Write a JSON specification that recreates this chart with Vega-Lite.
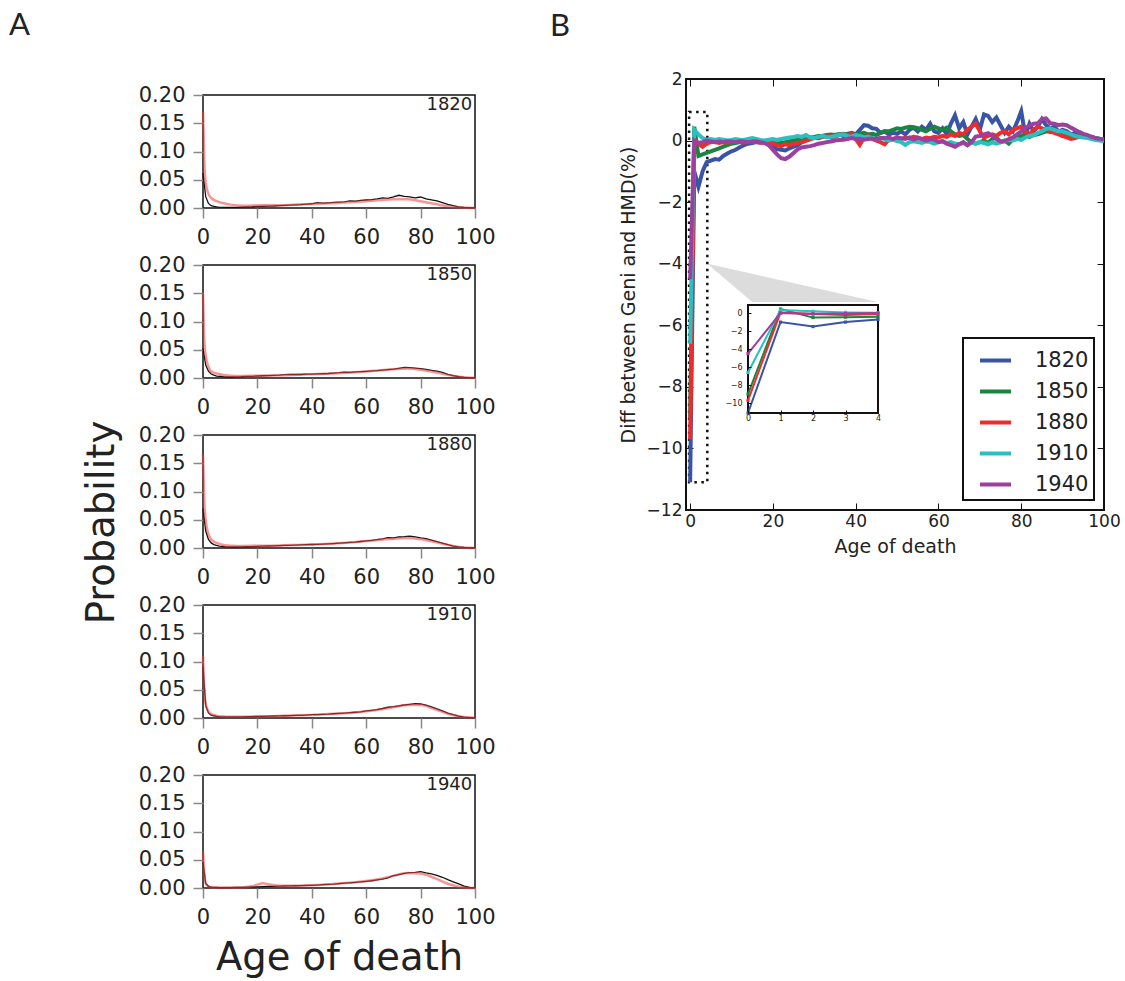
{
"$schema":"https://vega.github.io/schema/vega-lite/v6.json",
"background":"white",
"padding":{"left":9,"top":9,"right":5,"bottom":5},
"config":{
 "font":"DejaVu Sans",
 "view":{"stroke":null},
 "axis":{"grid":false,"domain":false,"tickColor":"#888","tickSize":10,"tickWidth":1.5,"labelPadding":8,"labelFontSize":21,"labelFlush":false,"labelOverlap":false,"labelColor":"#222","titleColor":"#222","titleFontWeight":"normal","labelFont":"DejaVu Sans","titleFont":"DejaVu Sans"},
 "axisX":{"values":[0,20,40,60,80,100]},
 "legend":{"strokeWidth":2}
},
"datasets":{
"a":[
{"c":"1820","s":"G","a":0,"v":0.062},{"c":"1820","s":"G","a":1,"v":0.02},{"c":"1820","s":"G","a":2,"v":0.008},{"c":"1820","s":"G","a":3,"v":0.004},{"c":"1820","s":"G","a":4,"v":0.003},{"c":"1820","s":"G","a":5,"v":0.002},{"c":"1820","s":"G","a":6,"v":0.0015},{"c":"1820","s":"G","a":8,"v":0.001},{"c":"1820","s":"G","a":10,"v":0.001},{"c":"1820","s":"G","a":12,"v":0.0012},{"c":"1820","s":"G","a":14,"v":0.0015},{"c":"1820","s":"G","a":16,"v":0.002},{"c":"1820","s":"G","a":18,"v":0.0022},{"c":"1820","s":"G","a":20,"v":0.0028},{"c":"1820","s":"G","a":22,"v":0.003},{"c":"1820","s":"G","a":24,"v":0.0032},{"c":"1820","s":"G","a":26,"v":0.0035},{"c":"1820","s":"G","a":28,"v":0.0042},{"c":"1820","s":"G","a":30,"v":0.0045},{"c":"1820","s":"G","a":32,"v":0.005},{"c":"1820","s":"G","a":34,"v":0.0055},{"c":"1820","s":"G","a":36,"v":0.006},{"c":"1820","s":"G","a":38,"v":0.0068},{"c":"1820","s":"G","a":40,"v":0.0075},{"c":"1820","s":"G","a":42,"v":0.0095},{"c":"1820","s":"G","a":44,"v":0.0088},{"c":"1820","s":"G","a":46,"v":0.0092},{"c":"1820","s":"G","a":48,"v":0.0098},{"c":"1820","s":"G","a":50,"v":0.0105},{"c":"1820","s":"G","a":52,"v":0.011},{"c":"1820","s":"G","a":54,"v":0.0125},{"c":"1820","s":"G","a":56,"v":0.012},{"c":"1820","s":"G","a":58,"v":0.0135},{"c":"1820","s":"G","a":60,"v":0.0142},{"c":"1820","s":"G","a":62,"v":0.015},{"c":"1820","s":"G","a":64,"v":0.0162},{"c":"1820","s":"G","a":66,"v":0.0178},{"c":"1820","s":"G","a":68,"v":0.0172},{"c":"1820","s":"G","a":70,"v":0.0195},{"c":"1820","s":"G","a":72,"v":0.0225},{"c":"1820","s":"G","a":74,"v":0.0205},{"c":"1820","s":"G","a":76,"v":0.0198},{"c":"1820","s":"G","a":78,"v":0.018},{"c":"1820","s":"G","a":80,"v":0.0195},{"c":"1820","s":"G","a":82,"v":0.016},{"c":"1820","s":"G","a":84,"v":0.0145},{"c":"1820","s":"G","a":86,"v":0.0125},{"c":"1820","s":"G","a":88,"v":0.0095},{"c":"1820","s":"G","a":90,"v":0.0065},{"c":"1820","s":"G","a":92,"v":0.004},{"c":"1820","s":"G","a":94,"v":0.002},{"c":"1820","s":"G","a":96,"v":0.001},{"c":"1820","s":"G","a":98,"v":0.0005},{"c":"1820","s":"G","a":100,"v":0.0002},
{"c":"1820","s":"H","a":0,"v":0.17},{"c":"1820","s":"H","a":0.5,"v":0.08},{"c":"1820","s":"H","a":1,"v":0.045},{"c":"1820","s":"H","a":2,"v":0.025},{"c":"1820","s":"H","a":3,"v":0.018},{"c":"1820","s":"H","a":5,"v":0.012},{"c":"1820","s":"H","a":8,"v":0.008},{"c":"1820","s":"H","a":10,"v":0.006},{"c":"1820","s":"H","a":15,"v":0.004},{"c":"1820","s":"H","a":20,"v":0.0045},{"c":"1820","s":"H","a":25,"v":0.005},{"c":"1820","s":"H","a":30,"v":0.005},{"c":"1820","s":"H","a":35,"v":0.006},{"c":"1820","s":"H","a":40,"v":0.007},{"c":"1820","s":"H","a":45,"v":0.008},{"c":"1820","s":"H","a":50,"v":0.009},{"c":"1820","s":"H","a":55,"v":0.0105},{"c":"1820","s":"H","a":60,"v":0.012},{"c":"1820","s":"H","a":65,"v":0.014},{"c":"1820","s":"H","a":70,"v":0.0155},{"c":"1820","s":"H","a":75,"v":0.0155},{"c":"1820","s":"H","a":80,"v":0.012},{"c":"1820","s":"H","a":85,"v":0.0075},{"c":"1820","s":"H","a":90,"v":0.003},{"c":"1820","s":"H","a":95,"v":0.0008},{"c":"1820","s":"H","a":100,"v":0.0001},
{"c":"1850","s":"G","a":0,"v":0.052},{"c":"1850","s":"G","a":1,"v":0.023},{"c":"1850","s":"G","a":2,"v":0.012},{"c":"1850","s":"G","a":3,"v":0.007},{"c":"1850","s":"G","a":4,"v":0.005},{"c":"1850","s":"G","a":5,"v":0.0035},{"c":"1850","s":"G","a":6,"v":0.003},{"c":"1850","s":"G","a":8,"v":0.002},{"c":"1850","s":"G","a":10,"v":0.0018},{"c":"1850","s":"G","a":12,"v":0.002},{"c":"1850","s":"G","a":14,"v":0.0022},{"c":"1850","s":"G","a":16,"v":0.0028},{"c":"1850","s":"G","a":18,"v":0.003},{"c":"1850","s":"G","a":20,"v":0.0035},{"c":"1850","s":"G","a":22,"v":0.004},{"c":"1850","s":"G","a":24,"v":0.0042},{"c":"1850","s":"G","a":26,"v":0.0045},{"c":"1850","s":"G","a":28,"v":0.005},{"c":"1850","s":"G","a":30,"v":0.0058},{"c":"1850","s":"G","a":32,"v":0.0062},{"c":"1850","s":"G","a":34,"v":0.0065},{"c":"1850","s":"G","a":36,"v":0.0062},{"c":"1850","s":"G","a":38,"v":0.0068},{"c":"1850","s":"G","a":40,"v":0.007},{"c":"1850","s":"G","a":42,"v":0.0072},{"c":"1850","s":"G","a":44,"v":0.0075},{"c":"1850","s":"G","a":46,"v":0.008},{"c":"1850","s":"G","a":48,"v":0.0088},{"c":"1850","s":"G","a":50,"v":0.0095},{"c":"1850","s":"G","a":52,"v":0.0105},{"c":"1850","s":"G","a":54,"v":0.0098},{"c":"1850","s":"G","a":56,"v":0.0108},{"c":"1850","s":"G","a":58,"v":0.0112},{"c":"1850","s":"G","a":60,"v":0.0118},{"c":"1850","s":"G","a":62,"v":0.0125},{"c":"1850","s":"G","a":64,"v":0.013},{"c":"1850","s":"G","a":66,"v":0.0138},{"c":"1850","s":"G","a":68,"v":0.0148},{"c":"1850","s":"G","a":70,"v":0.0158},{"c":"1850","s":"G","a":72,"v":0.0172},{"c":"1850","s":"G","a":74,"v":0.0188},{"c":"1850","s":"G","a":76,"v":0.0182},{"c":"1850","s":"G","a":78,"v":0.0176},{"c":"1850","s":"G","a":80,"v":0.0165},{"c":"1850","s":"G","a":82,"v":0.0152},{"c":"1850","s":"G","a":84,"v":0.0135},{"c":"1850","s":"G","a":86,"v":0.012},{"c":"1850","s":"G","a":88,"v":0.0098},{"c":"1850","s":"G","a":90,"v":0.0065},{"c":"1850","s":"G","a":92,"v":0.004},{"c":"1850","s":"G","a":94,"v":0.0022},{"c":"1850","s":"G","a":96,"v":0.001},{"c":"1850","s":"G","a":98,"v":0.0005},{"c":"1850","s":"G","a":100,"v":0.0002},
{"c":"1850","s":"H","a":0,"v":0.15},{"c":"1850","s":"H","a":0.5,"v":0.065},{"c":"1850","s":"H","a":1,"v":0.04},{"c":"1850","s":"H","a":2,"v":0.02},{"c":"1850","s":"H","a":3,"v":0.012},{"c":"1850","s":"H","a":5,"v":0.008},{"c":"1850","s":"H","a":8,"v":0.005},{"c":"1850","s":"H","a":10,"v":0.004},{"c":"1850","s":"H","a":15,"v":0.0035},{"c":"1850","s":"H","a":20,"v":0.004},{"c":"1850","s":"H","a":25,"v":0.0045},{"c":"1850","s":"H","a":30,"v":0.005},{"c":"1850","s":"H","a":35,"v":0.0058},{"c":"1850","s":"H","a":40,"v":0.0065},{"c":"1850","s":"H","a":45,"v":0.0075},{"c":"1850","s":"H","a":50,"v":0.0085},{"c":"1850","s":"H","a":55,"v":0.0098},{"c":"1850","s":"H","a":60,"v":0.0115},{"c":"1850","s":"H","a":65,"v":0.0135},{"c":"1850","s":"H","a":70,"v":0.0155},{"c":"1850","s":"H","a":75,"v":0.0168},{"c":"1850","s":"H","a":80,"v":0.0148},{"c":"1850","s":"H","a":85,"v":0.0105},{"c":"1850","s":"H","a":90,"v":0.0055},{"c":"1850","s":"H","a":95,"v":0.0018},{"c":"1850","s":"H","a":100,"v":0.0003},
{"c":"1880","s":"G","a":0,"v":0.07},{"c":"1880","s":"G","a":1,"v":0.03},{"c":"1880","s":"G","a":2,"v":0.015},{"c":"1880","s":"G","a":3,"v":0.009},{"c":"1880","s":"G","a":4,"v":0.006},{"c":"1880","s":"G","a":5,"v":0.0045},{"c":"1880","s":"G","a":6,"v":0.0035},{"c":"1880","s":"G","a":8,"v":0.0025},{"c":"1880","s":"G","a":10,"v":0.002},{"c":"1880","s":"G","a":12,"v":0.0018},{"c":"1880","s":"G","a":14,"v":0.002},{"c":"1880","s":"G","a":16,"v":0.0022},{"c":"1880","s":"G","a":18,"v":0.0025},{"c":"1880","s":"G","a":20,"v":0.003},{"c":"1880","s":"G","a":22,"v":0.0032},{"c":"1880","s":"G","a":24,"v":0.0035},{"c":"1880","s":"G","a":26,"v":0.0038},{"c":"1880","s":"G","a":28,"v":0.0042},{"c":"1880","s":"G","a":30,"v":0.0048},{"c":"1880","s":"G","a":32,"v":0.0045},{"c":"1880","s":"G","a":34,"v":0.0052},{"c":"1880","s":"G","a":36,"v":0.0055},{"c":"1880","s":"G","a":38,"v":0.0058},{"c":"1880","s":"G","a":40,"v":0.0062},{"c":"1880","s":"G","a":42,"v":0.0065},{"c":"1880","s":"G","a":44,"v":0.0068},{"c":"1880","s":"G","a":46,"v":0.0072},{"c":"1880","s":"G","a":48,"v":0.0078},{"c":"1880","s":"G","a":50,"v":0.0085},{"c":"1880","s":"G","a":52,"v":0.0092},{"c":"1880","s":"G","a":54,"v":0.0098},{"c":"1880","s":"G","a":56,"v":0.0105},{"c":"1880","s":"G","a":58,"v":0.0115},{"c":"1880","s":"G","a":60,"v":0.0125},{"c":"1880","s":"G","a":62,"v":0.0135},{"c":"1880","s":"G","a":64,"v":0.0148},{"c":"1880","s":"G","a":66,"v":0.016},{"c":"1880","s":"G","a":68,"v":0.0182},{"c":"1880","s":"G","a":70,"v":0.0178},{"c":"1880","s":"G","a":72,"v":0.0195},{"c":"1880","s":"G","a":74,"v":0.02},{"c":"1880","s":"G","a":76,"v":0.021},{"c":"1880","s":"G","a":78,"v":0.0198},{"c":"1880","s":"G","a":80,"v":0.018},{"c":"1880","s":"G","a":82,"v":0.0165},{"c":"1880","s":"G","a":84,"v":0.014},{"c":"1880","s":"G","a":86,"v":0.0112},{"c":"1880","s":"G","a":88,"v":0.0086},{"c":"1880","s":"G","a":90,"v":0.0058},{"c":"1880","s":"G","a":92,"v":0.0035},{"c":"1880","s":"G","a":94,"v":0.002},{"c":"1880","s":"G","a":96,"v":0.001},{"c":"1880","s":"G","a":98,"v":0.0004},{"c":"1880","s":"G","a":100,"v":0.0001},
{"c":"1880","s":"H","a":0,"v":0.165},{"c":"1880","s":"H","a":0.5,"v":0.08},{"c":"1880","s":"H","a":1,"v":0.05},{"c":"1880","s":"H","a":2,"v":0.025},{"c":"1880","s":"H","a":3,"v":0.015},{"c":"1880","s":"H","a":5,"v":0.009},{"c":"1880","s":"H","a":8,"v":0.005},{"c":"1880","s":"H","a":10,"v":0.004},{"c":"1880","s":"H","a":15,"v":0.0035},{"c":"1880","s":"H","a":20,"v":0.004},{"c":"1880","s":"H","a":25,"v":0.0042},{"c":"1880","s":"H","a":30,"v":0.0048},{"c":"1880","s":"H","a":35,"v":0.0055},{"c":"1880","s":"H","a":40,"v":0.006},{"c":"1880","s":"H","a":45,"v":0.007},{"c":"1880","s":"H","a":50,"v":0.0085},{"c":"1880","s":"H","a":55,"v":0.0102},{"c":"1880","s":"H","a":60,"v":0.0122},{"c":"1880","s":"H","a":65,"v":0.0145},{"c":"1880","s":"H","a":70,"v":0.0165},{"c":"1880","s":"H","a":75,"v":0.0175},{"c":"1880","s":"H","a":80,"v":0.0155},{"c":"1880","s":"H","a":85,"v":0.011},{"c":"1880","s":"H","a":90,"v":0.0055},{"c":"1880","s":"H","a":95,"v":0.0015},{"c":"1880","s":"H","a":100,"v":0.0002},
{"c":"1910","s":"G","a":0,"v":0.09},{"c":"1910","s":"G","a":1,"v":0.022},{"c":"1910","s":"G","a":2,"v":0.009},{"c":"1910","s":"G","a":3,"v":0.005},{"c":"1910","s":"G","a":4,"v":0.004},{"c":"1910","s":"G","a":5,"v":0.003},{"c":"1910","s":"G","a":6,"v":0.0025},{"c":"1910","s":"G","a":8,"v":0.002},{"c":"1910","s":"G","a":10,"v":0.0018},{"c":"1910","s":"G","a":12,"v":0.0018},{"c":"1910","s":"G","a":14,"v":0.002},{"c":"1910","s":"G","a":16,"v":0.0022},{"c":"1910","s":"G","a":18,"v":0.0025},{"c":"1910","s":"G","a":20,"v":0.0028},{"c":"1910","s":"G","a":22,"v":0.003},{"c":"1910","s":"G","a":24,"v":0.0032},{"c":"1910","s":"G","a":26,"v":0.0035},{"c":"1910","s":"G","a":28,"v":0.0038},{"c":"1910","s":"G","a":30,"v":0.004},{"c":"1910","s":"G","a":32,"v":0.0042},{"c":"1910","s":"G","a":34,"v":0.0045},{"c":"1910","s":"G","a":36,"v":0.0048},{"c":"1910","s":"G","a":38,"v":0.0052},{"c":"1910","s":"G","a":40,"v":0.0058},{"c":"1910","s":"G","a":42,"v":0.006},{"c":"1910","s":"G","a":44,"v":0.0065},{"c":"1910","s":"G","a":46,"v":0.0068},{"c":"1910","s":"G","a":48,"v":0.0075},{"c":"1910","s":"G","a":50,"v":0.0082},{"c":"1910","s":"G","a":52,"v":0.0088},{"c":"1910","s":"G","a":54,"v":0.0095},{"c":"1910","s":"G","a":56,"v":0.0102},{"c":"1910","s":"G","a":58,"v":0.011},{"c":"1910","s":"G","a":60,"v":0.0125},{"c":"1910","s":"G","a":62,"v":0.0135},{"c":"1910","s":"G","a":64,"v":0.015},{"c":"1910","s":"G","a":66,"v":0.0168},{"c":"1910","s":"G","a":68,"v":0.019},{"c":"1910","s":"G","a":70,"v":0.02},{"c":"1910","s":"G","a":72,"v":0.0215},{"c":"1910","s":"G","a":74,"v":0.023},{"c":"1910","s":"G","a":76,"v":0.0242},{"c":"1910","s":"G","a":78,"v":0.0255},{"c":"1910","s":"G","a":80,"v":0.0248},{"c":"1910","s":"G","a":82,"v":0.0228},{"c":"1910","s":"G","a":84,"v":0.0195},{"c":"1910","s":"G","a":86,"v":0.016},{"c":"1910","s":"G","a":88,"v":0.0125},{"c":"1910","s":"G","a":90,"v":0.0088},{"c":"1910","s":"G","a":92,"v":0.0058},{"c":"1910","s":"G","a":94,"v":0.0032},{"c":"1910","s":"G","a":96,"v":0.0016},{"c":"1910","s":"G","a":98,"v":0.0007},{"c":"1910","s":"G","a":100,"v":0.0002},
{"c":"1910","s":"H","a":0,"v":0.11},{"c":"1910","s":"H","a":0.5,"v":0.05},{"c":"1910","s":"H","a":1,"v":0.025},{"c":"1910","s":"H","a":2,"v":0.012},{"c":"1910","s":"H","a":3,"v":0.007},{"c":"1910","s":"H","a":5,"v":0.004},{"c":"1910","s":"H","a":8,"v":0.0025},{"c":"1910","s":"H","a":10,"v":0.002},{"c":"1910","s":"H","a":15,"v":0.002},{"c":"1910","s":"H","a":20,"v":0.0028},{"c":"1910","s":"H","a":25,"v":0.0033},{"c":"1910","s":"H","a":30,"v":0.004},{"c":"1910","s":"H","a":35,"v":0.0047},{"c":"1910","s":"H","a":40,"v":0.0055},{"c":"1910","s":"H","a":45,"v":0.0065},{"c":"1910","s":"H","a":50,"v":0.008},{"c":"1910","s":"H","a":55,"v":0.0095},{"c":"1910","s":"H","a":60,"v":0.0118},{"c":"1910","s":"H","a":65,"v":0.015},{"c":"1910","s":"H","a":70,"v":0.019},{"c":"1910","s":"H","a":75,"v":0.0228},{"c":"1910","s":"H","a":80,"v":0.0228},{"c":"1910","s":"H","a":85,"v":0.016},{"c":"1910","s":"H","a":90,"v":0.0075},{"c":"1910","s":"H","a":95,"v":0.0022},{"c":"1910","s":"H","a":100,"v":0.0003},
{"c":"1940","s":"G","a":0,"v":0.045},{"c":"1940","s":"G","a":1,"v":0.008},{"c":"1940","s":"G","a":2,"v":0.003},{"c":"1940","s":"G","a":3,"v":0.0015},{"c":"1940","s":"G","a":4,"v":0.001},{"c":"1940","s":"G","a":5,"v":0.001},{"c":"1940","s":"G","a":6,"v":0.0008},{"c":"1940","s":"G","a":8,"v":0.0008},{"c":"1940","s":"G","a":10,"v":0.0008},{"c":"1940","s":"G","a":12,"v":0.001},{"c":"1940","s":"G","a":14,"v":0.0012},{"c":"1940","s":"G","a":16,"v":0.0015},{"c":"1940","s":"G","a":18,"v":0.0018},{"c":"1940","s":"G","a":20,"v":0.002},{"c":"1940","s":"G","a":22,"v":0.0025},{"c":"1940","s":"G","a":24,"v":0.0028},{"c":"1940","s":"G","a":26,"v":0.003},{"c":"1940","s":"G","a":28,"v":0.0032},{"c":"1940","s":"G","a":30,"v":0.0035},{"c":"1940","s":"G","a":32,"v":0.0038},{"c":"1940","s":"G","a":34,"v":0.004},{"c":"1940","s":"G","a":36,"v":0.0042},{"c":"1940","s":"G","a":38,"v":0.0045},{"c":"1940","s":"G","a":40,"v":0.0048},{"c":"1940","s":"G","a":42,"v":0.0052},{"c":"1940","s":"G","a":44,"v":0.0058},{"c":"1940","s":"G","a":46,"v":0.0065},{"c":"1940","s":"G","a":48,"v":0.007},{"c":"1940","s":"G","a":50,"v":0.0078},{"c":"1940","s":"G","a":52,"v":0.0085},{"c":"1940","s":"G","a":54,"v":0.0092},{"c":"1940","s":"G","a":56,"v":0.01},{"c":"1940","s":"G","a":58,"v":0.0108},{"c":"1940","s":"G","a":60,"v":0.0118},{"c":"1940","s":"G","a":62,"v":0.0128},{"c":"1940","s":"G","a":64,"v":0.0142},{"c":"1940","s":"G","a":66,"v":0.0158},{"c":"1940","s":"G","a":68,"v":0.0178},{"c":"1940","s":"G","a":70,"v":0.0218},{"c":"1940","s":"G","a":72,"v":0.0235},{"c":"1940","s":"G","a":74,"v":0.026},{"c":"1940","s":"G","a":76,"v":0.0272},{"c":"1940","s":"G","a":78,"v":0.0278},{"c":"1940","s":"G","a":80,"v":0.0288},{"c":"1940","s":"G","a":82,"v":0.0268},{"c":"1940","s":"G","a":84,"v":0.0252},{"c":"1940","s":"G","a":86,"v":0.0225},{"c":"1940","s":"G","a":88,"v":0.019},{"c":"1940","s":"G","a":90,"v":0.0148},{"c":"1940","s":"G","a":92,"v":0.011},{"c":"1940","s":"G","a":94,"v":0.0072},{"c":"1940","s":"G","a":96,"v":0.0035},{"c":"1940","s":"G","a":98,"v":0.001},{"c":"1940","s":"G","a":100,"v":0.0002},
{"c":"1940","s":"H","a":0,"v":0.065},{"c":"1940","s":"H","a":0.5,"v":0.025},{"c":"1940","s":"H","a":1,"v":0.008},{"c":"1940","s":"H","a":2,"v":0.003},{"c":"1940","s":"H","a":3,"v":0.0015},{"c":"1940","s":"H","a":5,"v":0.001},{"c":"1940","s":"H","a":10,"v":0.001},{"c":"1940","s":"H","a":15,"v":0.0015},{"c":"1940","s":"H","a":18,"v":0.003},{"c":"1940","s":"H","a":20,"v":0.006},{"c":"1940","s":"H","a":22,"v":0.0085},{"c":"1940","s":"H","a":24,"v":0.0065},{"c":"1940","s":"H","a":27,"v":0.0045},{"c":"1940","s":"H","a":30,"v":0.004},{"c":"1940","s":"H","a":35,"v":0.0042},{"c":"1940","s":"H","a":40,"v":0.0048},{"c":"1940","s":"H","a":45,"v":0.006},{"c":"1940","s":"H","a":50,"v":0.0078},{"c":"1940","s":"H","a":55,"v":0.0098},{"c":"1940","s":"H","a":60,"v":0.0122},{"c":"1940","s":"H","a":65,"v":0.016},{"c":"1940","s":"H","a":70,"v":0.0215},{"c":"1940","s":"H","a":75,"v":0.0265},{"c":"1940","s":"H","a":80,"v":0.0255},{"c":"1940","s":"H","a":85,"v":0.018},{"c":"1940","s":"H","a":90,"v":0.0075},{"c":"1940","s":"H","a":95,"v":0.0015},{"c":"1940","s":"H","a":100,"v":0.0001}
],
"b":[
{"c":"1820","a":0,"v":-11.1},{"c":"1820","a":1,"v":-1.0},{"c":"1820","a":2,"v":-1.5},{"c":"1820","a":3,"v":-1.0},{"c":"1820","a":4,"v":-0.7},{"c":"1820","a":5,"v":-0.65},{"c":"1820","a":6,"v":-0.6},{"c":"1820","a":7,"v":-0.62},{"c":"1820","a":8,"v":-0.5},{"c":"1820","a":9,"v":-0.42},
{"c":"1820","a":10,"v":-0.35},{"c":"1820","a":11,"v":-0.3},{"c":"1820","a":12,"v":-0.22},{"c":"1820","a":13,"v":-0.15},{"c":"1820","a":14,"v":-0.1},{"c":"1820","a":15,"v":-0.08},{"c":"1820","a":16,"v":-0.05},{"c":"1820","a":17,"v":-0.06},{"c":"1820","a":18,"v":-0.05},{"c":"1820","a":19,"v":-0.1},
{"c":"1820","a":20,"v":-0.2},{"c":"1820","a":21,"v":-0.28},{"c":"1820","a":22,"v":-0.3},{"c":"1820","a":23,"v":-0.32},{"c":"1820","a":24,"v":-0.25},{"c":"1820","a":25,"v":-0.2},{"c":"1820","a":26,"v":-0.15},{"c":"1820","a":27,"v":-0.05},{"c":"1820","a":28,"v":0.0},{"c":"1820","a":29,"v":0.05},
{"c":"1820","a":30,"v":0.1},{"c":"1820","a":31,"v":0.08},{"c":"1820","a":32,"v":0.12},{"c":"1820","a":33,"v":0.15},{"c":"1820","a":34,"v":0.1},{"c":"1820","a":35,"v":0.18},{"c":"1820","a":36,"v":0.2},{"c":"1820","a":37,"v":0.15},{"c":"1820","a":38,"v":0.22},{"c":"1820","a":39,"v":0.25},
{"c":"1820","a":40,"v":0.2},{"c":"1820","a":41,"v":0.35},{"c":"1820","a":42,"v":0.5},{"c":"1820","a":43,"v":0.48},{"c":"1820","a":44,"v":0.4},{"c":"1820","a":45,"v":0.38},{"c":"1820","a":46,"v":0.25},{"c":"1820","a":47,"v":0.3},{"c":"1820","a":48,"v":0.2},{"c":"1820","a":49,"v":0.25},
{"c":"1820","a":50,"v":0.22},{"c":"1820","a":51,"v":0.3},{"c":"1820","a":52,"v":0.2},{"c":"1820","a":53,"v":0.35},{"c":"1820","a":54,"v":0.42},{"c":"1820","a":55,"v":0.3},{"c":"1820","a":56,"v":0.45},{"c":"1820","a":57,"v":0.35},{"c":"1820","a":58,"v":0.55},{"c":"1820","a":59,"v":0.3},
{"c":"1820","a":60,"v":0.25},{"c":"1820","a":61,"v":0.4},{"c":"1820","a":62,"v":0.2},{"c":"1820","a":63,"v":0.55},{"c":"1820","a":64,"v":0.82},{"c":"1820","a":65,"v":0.4},{"c":"1820","a":66,"v":0.6},{"c":"1820","a":67,"v":0.2},{"c":"1820","a":68,"v":0.45},{"c":"1820","a":69,"v":0.7},
{"c":"1820","a":70,"v":0.35},{"c":"1820","a":71,"v":0.85},{"c":"1820","a":72,"v":0.8},{"c":"1820","a":73,"v":0.6},{"c":"1820","a":74,"v":0.75},{"c":"1820","a":75,"v":0.5},{"c":"1820","a":76,"v":0.25},{"c":"1820","a":77,"v":0.45},{"c":"1820","a":78,"v":0.3},{"c":"1820","a":79,"v":0.6},
{"c":"1820","a":80,"v":0.95},{"c":"1820","a":81,"v":0.15},{"c":"1820","a":82,"v":0.55},{"c":"1820","a":83,"v":0.3},{"c":"1820","a":84,"v":0.45},{"c":"1820","a":85,"v":0.7},{"c":"1820","a":86,"v":0.5},{"c":"1820","a":87,"v":0.4},{"c":"1820","a":88,"v":0.45},{"c":"1820","a":89,"v":0.3},
{"c":"1820","a":90,"v":0.35},{"c":"1820","a":91,"v":0.3},{"c":"1820","a":92,"v":0.2},{"c":"1820","a":93,"v":0.25},{"c":"1820","a":94,"v":0.15},{"c":"1820","a":95,"v":0.2},{"c":"1820","a":96,"v":0.1},{"c":"1820","a":97,"v":0.12},{"c":"1820","a":98,"v":0.08},{"c":"1820","a":99,"v":0.05},{"c":"1820","a":100,"v":0.05},
{"c":"1850","a":0,"v":-9.0},{"c":"1850","a":1,"v":0.45},{"c":"1850","a":2,"v":-0.5},{"c":"1850","a":3,"v":-0.45},{"c":"1850","a":4,"v":-0.4},{"c":"1850","a":5,"v":-0.35},{"c":"1850","a":6,"v":-0.3},{"c":"1850","a":7,"v":-0.25},{"c":"1850","a":8,"v":-0.2},{"c":"1850","a":9,"v":-0.15},
{"c":"1850","a":10,"v":-0.1},{"c":"1850","a":11,"v":-0.08},{"c":"1850","a":12,"v":-0.05},{"c":"1850","a":13,"v":-0.05},{"c":"1850","a":14,"v":-0.04},{"c":"1850","a":15,"v":-0.03},{"c":"1850","a":16,"v":-0.02},{"c":"1850","a":17,"v":-0.03},{"c":"1850","a":18,"v":-0.05},{"c":"1850","a":19,"v":-0.04},
{"c":"1850","a":20,"v":-0.05},{"c":"1850","a":21,"v":-0.06},{"c":"1850","a":22,"v":-0.08},{"c":"1850","a":23,"v":-0.05},{"c":"1850","a":24,"v":-0.02},{"c":"1850","a":25,"v":0.0},{"c":"1850","a":26,"v":0.03},{"c":"1850","a":27,"v":0.05},{"c":"1850","a":28,"v":0.08},{"c":"1850","a":29,"v":0.1},
{"c":"1850","a":30,"v":0.12},{"c":"1850","a":31,"v":0.15},{"c":"1850","a":32,"v":0.16},{"c":"1850","a":33,"v":0.18},{"c":"1850","a":34,"v":0.2},{"c":"1850","a":35,"v":0.18},{"c":"1850","a":36,"v":0.2},{"c":"1850","a":37,"v":0.22},{"c":"1850","a":38,"v":0.2},{"c":"1850","a":39,"v":0.18},
{"c":"1850","a":40,"v":0.2},{"c":"1850","a":41,"v":0.22},{"c":"1850","a":42,"v":0.25},{"c":"1850","a":43,"v":0.2},{"c":"1850","a":44,"v":0.22},{"c":"1850","a":45,"v":0.18},{"c":"1850","a":46,"v":0.25},{"c":"1850","a":47,"v":0.3},{"c":"1850","a":48,"v":0.3},{"c":"1850","a":49,"v":0.35},
{"c":"1850","a":50,"v":0.4},{"c":"1850","a":51,"v":0.38},{"c":"1850","a":52,"v":0.42},{"c":"1850","a":53,"v":0.45},{"c":"1850","a":54,"v":0.43},{"c":"1850","a":55,"v":0.4},{"c":"1850","a":56,"v":0.35},{"c":"1850","a":57,"v":0.3},{"c":"1850","a":58,"v":0.38},{"c":"1850","a":59,"v":0.45},
{"c":"1850","a":60,"v":0.4},{"c":"1850","a":61,"v":0.35},{"c":"1850","a":62,"v":0.42},{"c":"1850","a":63,"v":0.3},{"c":"1850","a":64,"v":0.2},{"c":"1850","a":65,"v":0.15},{"c":"1850","a":66,"v":0.18},{"c":"1850","a":67,"v":0.05},{"c":"1850","a":68,"v":-0.05},{"c":"1850","a":69,"v":-0.1},
{"c":"1850","a":70,"v":-0.05},{"c":"1850","a":71,"v":0.0},{"c":"1850","a":72,"v":-0.08},{"c":"1850","a":73,"v":0.05},{"c":"1850","a":74,"v":0.1},{"c":"1850","a":75,"v":-0.05},{"c":"1850","a":76,"v":0.0},{"c":"1850","a":77,"v":-0.1},{"c":"1850","a":78,"v":0.05},{"c":"1850","a":79,"v":0.1},
{"c":"1850","a":80,"v":0.15},{"c":"1850","a":81,"v":0.2},{"c":"1850","a":82,"v":0.12},{"c":"1850","a":83,"v":0.18},{"c":"1850","a":84,"v":0.2},{"c":"1850","a":85,"v":0.25},{"c":"1850","a":86,"v":0.3},{"c":"1850","a":87,"v":0.28},{"c":"1850","a":88,"v":0.3},{"c":"1850","a":89,"v":0.25},
{"c":"1850","a":90,"v":0.15},{"c":"1850","a":91,"v":0.2},{"c":"1850","a":92,"v":0.18},{"c":"1850","a":93,"v":0.15},{"c":"1850","a":94,"v":0.2},{"c":"1850","a":95,"v":0.15},{"c":"1850","a":96,"v":0.12},{"c":"1850","a":97,"v":0.1},{"c":"1850","a":98,"v":0.08},{"c":"1850","a":99,"v":0.05},{"c":"1850","a":100,"v":0.05},
{"c":"1880","a":0,"v":-9.7},{"c":"1880","a":1,"v":0.05},{"c":"1880","a":2,"v":-0.1},{"c":"1880","a":3,"v":-0.2},{"c":"1880","a":4,"v":-0.1},{"c":"1880","a":5,"v":-0.05},{"c":"1880","a":6,"v":-0.05},{"c":"1880","a":7,"v":-0.08},{"c":"1880","a":8,"v":-0.05},{"c":"1880","a":9,"v":-0.06},
{"c":"1880","a":10,"v":-0.05},{"c":"1880","a":11,"v":-0.04},{"c":"1880","a":12,"v":-0.05},{"c":"1880","a":13,"v":-0.06},{"c":"1880","a":14,"v":-0.05},{"c":"1880","a":15,"v":-0.04},{"c":"1880","a":16,"v":-0.05},{"c":"1880","a":17,"v":-0.07},{"c":"1880","a":18,"v":-0.06},{"c":"1880","a":19,"v":-0.08},
{"c":"1880","a":20,"v":-0.1},{"c":"1880","a":21,"v":-0.15},{"c":"1880","a":22,"v":-0.18},{"c":"1880","a":23,"v":-0.12},{"c":"1880","a":24,"v":-0.15},{"c":"1880","a":25,"v":-0.1},{"c":"1880","a":26,"v":-0.08},{"c":"1880","a":27,"v":-0.05},{"c":"1880","a":28,"v":0.0},{"c":"1880","a":29,"v":0.05},
{"c":"1880","a":30,"v":0.08},{"c":"1880","a":31,"v":0.1},{"c":"1880","a":32,"v":0.12},{"c":"1880","a":33,"v":0.13},{"c":"1880","a":34,"v":0.15},{"c":"1880","a":35,"v":0.12},{"c":"1880","a":36,"v":0.18},{"c":"1880","a":37,"v":0.2},{"c":"1880","a":38,"v":0.15},{"c":"1880","a":39,"v":0.22},
{"c":"1880","a":40,"v":0.05},{"c":"1880","a":41,"v":-0.14},{"c":"1880","a":42,"v":0.1},{"c":"1880","a":43,"v":0.15},{"c":"1880","a":44,"v":0.05},{"c":"1880","a":45,"v":0.0},{"c":"1880","a":46,"v":-0.05},{"c":"1880","a":47,"v":-0.12},{"c":"1880","a":48,"v":0.02},{"c":"1880","a":49,"v":0.05},
{"c":"1880","a":50,"v":0.08},{"c":"1880","a":51,"v":0.05},{"c":"1880","a":52,"v":0.1},{"c":"1880","a":53,"v":0.08},{"c":"1880","a":54,"v":0.12},{"c":"1880","a":55,"v":0.1},{"c":"1880","a":56,"v":0.05},{"c":"1880","a":57,"v":0.1},{"c":"1880","a":58,"v":0.08},{"c":"1880","a":59,"v":0.12},
{"c":"1880","a":60,"v":0.1},{"c":"1880","a":61,"v":0.15},{"c":"1880","a":62,"v":0.12},{"c":"1880","a":63,"v":0.2},{"c":"1880","a":64,"v":0.15},{"c":"1880","a":65,"v":0.25},{"c":"1880","a":66,"v":0.2},{"c":"1880","a":67,"v":0.35},{"c":"1880","a":68,"v":0.45},{"c":"1880","a":69,"v":0.55},
{"c":"1880","a":70,"v":0.3},{"c":"1880","a":71,"v":0.1},{"c":"1880","a":72,"v":0.15},{"c":"1880","a":73,"v":0.2},{"c":"1880","a":74,"v":0.15},{"c":"1880","a":75,"v":0.25},{"c":"1880","a":76,"v":0.3},{"c":"1880","a":77,"v":0.2},{"c":"1880","a":78,"v":0.35},{"c":"1880","a":79,"v":0.4},
{"c":"1880","a":80,"v":0.45},{"c":"1880","a":81,"v":0.3},{"c":"1880","a":82,"v":0.2},{"c":"1880","a":83,"v":0.35},{"c":"1880","a":84,"v":0.45},{"c":"1880","a":85,"v":0.4},{"c":"1880","a":86,"v":0.35},{"c":"1880","a":87,"v":0.3},{"c":"1880","a":88,"v":0.25},{"c":"1880","a":89,"v":0.2},
{"c":"1880","a":90,"v":0.15},{"c":"1880","a":91,"v":0.1},{"c":"1880","a":92,"v":0.05},{"c":"1880","a":93,"v":0.08},{"c":"1880","a":94,"v":0.12},{"c":"1880","a":95,"v":0.15},{"c":"1880","a":96,"v":0.1},{"c":"1880","a":97,"v":0.08},{"c":"1880","a":98,"v":0.05},{"c":"1880","a":99,"v":0.03},{"c":"1880","a":100,"v":0.02},
{"c":"1910","a":0,"v":-6.6},{"c":"1910","a":1,"v":0.35},{"c":"1910","a":2,"v":0.2},{"c":"1910","a":3,"v":0.08},{"c":"1910","a":4,"v":0.03},{"c":"1910","a":5,"v":0.05},{"c":"1910","a":6,"v":0.02},{"c":"1910","a":7,"v":0.05},{"c":"1910","a":8,"v":0.03},{"c":"1910","a":9,"v":0.0},
{"c":"1910","a":10,"v":0.02},{"c":"1910","a":11,"v":0.05},{"c":"1910","a":12,"v":0.03},{"c":"1910","a":13,"v":0.02},{"c":"1910","a":14,"v":0.05},{"c":"1910","a":15,"v":0.08},{"c":"1910","a":16,"v":0.05},{"c":"1910","a":17,"v":0.02},{"c":"1910","a":18,"v":0.0},{"c":"1910","a":19,"v":0.03},
{"c":"1910","a":20,"v":0.05},{"c":"1910","a":21,"v":0.02},{"c":"1910","a":22,"v":0.05},{"c":"1910","a":23,"v":0.08},{"c":"1910","a":24,"v":0.1},{"c":"1910","a":25,"v":0.12},{"c":"1910","a":26,"v":0.15},{"c":"1910","a":27,"v":0.12},{"c":"1910","a":28,"v":0.18},{"c":"1910","a":29,"v":0.1},
{"c":"1910","a":30,"v":0.08},{"c":"1910","a":31,"v":0.12},{"c":"1910","a":32,"v":0.15},{"c":"1910","a":33,"v":0.1},{"c":"1910","a":34,"v":0.12},{"c":"1910","a":35,"v":0.15},{"c":"1910","a":36,"v":0.18},{"c":"1910","a":37,"v":0.2},{"c":"1910","a":38,"v":0.15},{"c":"1910","a":39,"v":0.12},
{"c":"1910","a":40,"v":0.18},{"c":"1910","a":41,"v":0.15},{"c":"1910","a":42,"v":0.1},{"c":"1910","a":43,"v":0.12},{"c":"1910","a":44,"v":0.08},{"c":"1910","a":45,"v":0.05},{"c":"1910","a":46,"v":0.08},{"c":"1910","a":47,"v":0.05},{"c":"1910","a":48,"v":0.0},{"c":"1910","a":49,"v":0.03},
{"c":"1910","a":50,"v":-0.02},{"c":"1910","a":51,"v":-0.05},{"c":"1910","a":52,"v":-0.14},{"c":"1910","a":53,"v":-0.05},{"c":"1910","a":54,"v":-0.02},{"c":"1910","a":55,"v":-0.05},{"c":"1910","a":56,"v":-0.08},{"c":"1910","a":57,"v":-0.03},{"c":"1910","a":58,"v":-0.05},{"c":"1910","a":59,"v":-0.1},
{"c":"1910","a":60,"v":-0.05},{"c":"1910","a":61,"v":-0.02},{"c":"1910","a":62,"v":-0.08},{"c":"1910","a":63,"v":-0.05},{"c":"1910","a":64,"v":-0.1},{"c":"1910","a":65,"v":-0.12},{"c":"1910","a":66,"v":-0.08},{"c":"1910","a":67,"v":-0.14},{"c":"1910","a":68,"v":-0.05},{"c":"1910","a":69,"v":-0.1},
{"c":"1910","a":70,"v":-0.05},{"c":"1910","a":71,"v":-0.08},{"c":"1910","a":72,"v":-0.12},{"c":"1910","a":73,"v":-0.05},{"c":"1910","a":74,"v":-0.1},{"c":"1910","a":75,"v":-0.05},{"c":"1910","a":76,"v":-0.02},{"c":"1910","a":77,"v":0.02},{"c":"1910","a":78,"v":0.0},{"c":"1910","a":79,"v":0.05},
{"c":"1910","a":80,"v":0.02},{"c":"1910","a":81,"v":0.1},{"c":"1910","a":82,"v":0.15},{"c":"1910","a":83,"v":0.18},{"c":"1910","a":84,"v":0.25},{"c":"1910","a":85,"v":0.3},{"c":"1910","a":86,"v":0.38},{"c":"1910","a":87,"v":0.4},{"c":"1910","a":88,"v":0.35},{"c":"1910","a":89,"v":0.3},
{"c":"1910","a":90,"v":0.3},{"c":"1910","a":91,"v":0.25},{"c":"1910","a":92,"v":0.2},{"c":"1910","a":93,"v":0.15},{"c":"1910","a":94,"v":0.12},{"c":"1910","a":95,"v":0.1},{"c":"1910","a":96,"v":0.08},{"c":"1910","a":97,"v":0.05},{"c":"1910","a":98,"v":0.02},{"c":"1910","a":99,"v":0.0},{"c":"1910","a":100,"v":-0.02},
{"c":"1940","a":0,"v":-4.5},{"c":"1940","a":1,"v":0.0},{"c":"1940","a":2,"v":-0.08},{"c":"1940","a":3,"v":-0.05},{"c":"1940","a":4,"v":0.0},{"c":"1940","a":5,"v":-0.03},{"c":"1940","a":6,"v":-0.05},{"c":"1940","a":7,"v":-0.03},{"c":"1940","a":8,"v":-0.05},{"c":"1940","a":9,"v":-0.02},
{"c":"1940","a":10,"v":-0.03},{"c":"1940","a":11,"v":-0.05},{"c":"1940","a":12,"v":-0.02},{"c":"1940","a":13,"v":-0.03},{"c":"1940","a":14,"v":-0.05},{"c":"1940","a":15,"v":-0.03},{"c":"1940","a":16,"v":-0.02},{"c":"1940","a":17,"v":-0.05},{"c":"1940","a":18,"v":-0.08},{"c":"1940","a":19,"v":-0.15},
{"c":"1940","a":20,"v":-0.3},{"c":"1940","a":21,"v":-0.45},{"c":"1940","a":22,"v":-0.57},{"c":"1940","a":23,"v":-0.6},{"c":"1940","a":24,"v":-0.52},{"c":"1940","a":25,"v":-0.4},{"c":"1940","a":26,"v":-0.28},{"c":"1940","a":27,"v":-0.22},{"c":"1940","a":28,"v":-0.2},{"c":"1940","a":29,"v":-0.18},
{"c":"1940","a":30,"v":-0.15},{"c":"1940","a":31,"v":-0.1},{"c":"1940","a":32,"v":-0.08},{"c":"1940","a":33,"v":-0.05},{"c":"1940","a":34,"v":-0.03},{"c":"1940","a":35,"v":0.0},{"c":"1940","a":36,"v":0.02},{"c":"1940","a":37,"v":0.03},{"c":"1940","a":38,"v":0.05},{"c":"1940","a":39,"v":0.08},
{"c":"1940","a":40,"v":0.05},{"c":"1940","a":41,"v":0.06},{"c":"1940","a":42,"v":0.03},{"c":"1940","a":43,"v":0.05},{"c":"1940","a":44,"v":0.07},{"c":"1940","a":45,"v":0.05},{"c":"1940","a":46,"v":0.08},{"c":"1940","a":47,"v":0.08},{"c":"1940","a":48,"v":0.1},{"c":"1940","a":49,"v":0.05},
{"c":"1940","a":50,"v":0.1},{"c":"1940","a":51,"v":0.08},{"c":"1940","a":52,"v":0.05},{"c":"1940","a":53,"v":0.1},{"c":"1940","a":54,"v":0.03},{"c":"1940","a":55,"v":0.08},{"c":"1940","a":56,"v":0.05},{"c":"1940","a":57,"v":0.0},{"c":"1940","a":58,"v":0.05},{"c":"1940","a":59,"v":0.03},
{"c":"1940","a":60,"v":-0.05},{"c":"1940","a":61,"v":-0.02},{"c":"1940","a":62,"v":-0.1},{"c":"1940","a":63,"v":-0.15},{"c":"1940","a":64,"v":-0.2},{"c":"1940","a":65,"v":-0.12},{"c":"1940","a":66,"v":-0.05},{"c":"1940","a":67,"v":-0.15},{"c":"1940","a":68,"v":-0.05},{"c":"1940","a":69,"v":0.13},
{"c":"1940","a":70,"v":0.15},{"c":"1940","a":71,"v":0.2},{"c":"1940","a":72,"v":0.24},{"c":"1940","a":73,"v":0.15},{"c":"1940","a":74,"v":0.05},{"c":"1940","a":75,"v":-0.03},{"c":"1940","a":76,"v":-0.02},{"c":"1940","a":77,"v":0.05},{"c":"1940","a":78,"v":0.1},{"c":"1940","a":79,"v":0.2},
{"c":"1940","a":80,"v":0.3},{"c":"1940","a":81,"v":0.42},{"c":"1940","a":82,"v":0.48},{"c":"1940","a":83,"v":0.55},{"c":"1940","a":84,"v":0.56},{"c":"1940","a":85,"v":0.7},{"c":"1940","a":86,"v":0.72},{"c":"1940","a":87,"v":0.56},{"c":"1940","a":88,"v":0.55},{"c":"1940","a":89,"v":0.5},
{"c":"1940","a":90,"v":0.52},{"c":"1940","a":91,"v":0.5},{"c":"1940","a":92,"v":0.42},{"c":"1940","a":93,"v":0.35},{"c":"1940","a":94,"v":0.28},{"c":"1940","a":95,"v":0.22},{"c":"1940","a":96,"v":0.18},{"c":"1940","a":97,"v":0.12},{"c":"1940","a":98,"v":0.08},{"c":"1940","a":99,"v":0.06},{"c":"1940","a":100,"v":0.05}
]
},
"bounds":"flush",
"align":"none",
"spacing":483,
"resolve":{"legend":{"color":"independent"}},
"hconcat":[
 {
  "bounds":"flush","align":"none","spacing":15,
  "vconcat":[
   {"width":272,"height":1,"data":{"values":[{}]},"mark":{"type":"point","opacity":0},
    "title":{"text":"A","anchor":"start","frame":"group","dx":-194,"offset":11,"baseline":"alphabetic","font":"Lato","fontSize":31,"fontWeight":"normal","color":"#222"}},
   {
    "bounds":"flush","align":"none","spacing":57,
    "vconcat":[
     {"width":272,"height":113,"view":{"stroke":"#111","strokeWidth":1.5},
      "layer":[
       {"data":{"name":"a"},"transform":[{"filter":"datum.c=='1820' && datum.s=='G'"}],"mark":{"type":"line","color":"#111","strokeWidth":1.3},
        "encoding":{"x":{"field":"a","type":"quantitative","scale":{"domain":[0,100],"nice":false,"zero":false},"axis":{"values":[0,20,40,60,80,100],"title":null}},
         "y":{"field":"v","type":"quantitative","scale":{"domain":[0,0.2],"nice":false},"axis":{"values":[0,0.05,0.1,0.15,0.2],"format":".2f","title":null}}}},
       {"data":{"name":"a"},"transform":[{"filter":"datum.c=='1820' && datum.s=='H'"}],"mark":{"type":"line","color":"#f03c3c","opacity":0.55,"strokeWidth":2.5,"interpolate":"monotone"},
        "encoding":{"x":{"field":"a","type":"quantitative","scale":{"domain":[0,100],"nice":false,"zero":false},"axis":{"values":[0,20,40,60,80,100],"title":null}},
         "y":{"field":"v","type":"quantitative","scale":{"domain":[0,0.2],"nice":false},"axis":{"values":[0,0.05,0.1,0.15,0.2],"format":".2f","title":null}}}},
       {"data":{"values":[{"c":"1820"}]},"mark":{"type":"text","align":"right","baseline":"top","fontSize":18,"color":"#222"},
        "encoding":{"text":{"field":"c","type":"nominal"},"x":{"datum":99,"type":"quantitative","scale":{"domain":[0,100],"nice":false,"zero":false},"axis":{"values":[0,20,40,60,80,100],"title":null}},"y":{"datum":0.199,"type":"quantitative","scale":{"domain":[0,0.2],"nice":false},"axis":{"values":[0,0.05,0.1,0.15,0.2],"format":".2f","title":null}}}}
      ]},
     {"width":272,"height":113,"view":{"stroke":"#111","strokeWidth":1.5},
      "layer":[
       {"data":{"name":"a"},"transform":[{"filter":"datum.c=='1850' && datum.s=='G'"}],"mark":{"type":"line","color":"#111","strokeWidth":1.3},
        "encoding":{"x":{"field":"a","type":"quantitative","scale":{"domain":[0,100],"nice":false,"zero":false},"axis":{"values":[0,20,40,60,80,100],"title":null}},
         "y":{"field":"v","type":"quantitative","scale":{"domain":[0,0.2],"nice":false},"axis":{"values":[0,0.05,0.1,0.15,0.2],"format":".2f","title":null}}}},
       {"data":{"name":"a"},"transform":[{"filter":"datum.c=='1850' && datum.s=='H'"}],"mark":{"type":"line","color":"#f03c3c","opacity":0.55,"strokeWidth":2.5,"interpolate":"monotone"},
        "encoding":{"x":{"field":"a","type":"quantitative","scale":{"domain":[0,100],"nice":false,"zero":false},"axis":{"values":[0,20,40,60,80,100],"title":null}},
         "y":{"field":"v","type":"quantitative","scale":{"domain":[0,0.2],"nice":false},"axis":{"values":[0,0.05,0.1,0.15,0.2],"format":".2f","title":null}}}},
       {"data":{"values":[{"c":"1850"}]},"mark":{"type":"text","align":"right","baseline":"top","fontSize":18,"color":"#222"},
        "encoding":{"text":{"field":"c","type":"nominal"},"x":{"datum":99,"type":"quantitative","scale":{"domain":[0,100],"nice":false,"zero":false},"axis":{"values":[0,20,40,60,80,100],"title":null}},"y":{"datum":0.199,"type":"quantitative","scale":{"domain":[0,0.2],"nice":false},"axis":{"values":[0,0.05,0.1,0.15,0.2],"format":".2f","title":null}}}}
      ]},
     {"width":272,"height":113,"view":{"stroke":"#111","strokeWidth":1.5},
      "layer":[
       {"data":{"name":"a"},"transform":[{"filter":"datum.c=='1880' && datum.s=='G'"}],"mark":{"type":"line","color":"#111","strokeWidth":1.3},
        "encoding":{"x":{"field":"a","type":"quantitative","scale":{"domain":[0,100],"nice":false,"zero":false},"axis":{"values":[0,20,40,60,80,100],"title":null}},
         "y":{"field":"v","type":"quantitative","scale":{"domain":[0,0.2],"nice":false},"axis":{"values":[0,0.05,0.1,0.15,0.2],"format":".2f","title":"Probability","titleFontSize":38.5,"titlePadding":17,"titleY":87}}}},
       {"data":{"name":"a"},"transform":[{"filter":"datum.c=='1880' && datum.s=='H'"}],"mark":{"type":"line","color":"#f03c3c","opacity":0.55,"strokeWidth":2.5,"interpolate":"monotone"},
        "encoding":{"x":{"field":"a","type":"quantitative","scale":{"domain":[0,100],"nice":false,"zero":false},"axis":{"values":[0,20,40,60,80,100],"title":null}},
         "y":{"field":"v","type":"quantitative","scale":{"domain":[0,0.2],"nice":false},"axis":{"values":[0,0.05,0.1,0.15,0.2],"format":".2f","title":"Probability","titleFontSize":38.5,"titlePadding":17,"titleY":87}}}},
       {"data":{"values":[{"c":"1880"}]},"mark":{"type":"text","align":"right","baseline":"top","fontSize":18,"color":"#222"},
        "encoding":{"text":{"field":"c","type":"nominal"},"x":{"datum":99,"type":"quantitative","scale":{"domain":[0,100],"nice":false,"zero":false},"axis":{"values":[0,20,40,60,80,100],"title":null}},"y":{"datum":0.199,"type":"quantitative","scale":{"domain":[0,0.2],"nice":false},"axis":{"values":[0,0.05,0.1,0.15,0.2],"format":".2f","title":"Probability","titleFontSize":38.5,"titlePadding":17,"titleY":87}}}}
      ]},
     {"width":272,"height":113,"view":{"stroke":"#111","strokeWidth":1.5},
      "layer":[
       {"data":{"name":"a"},"transform":[{"filter":"datum.c=='1910' && datum.s=='G'"}],"mark":{"type":"line","color":"#111","strokeWidth":1.3},
        "encoding":{"x":{"field":"a","type":"quantitative","scale":{"domain":[0,100],"nice":false,"zero":false},"axis":{"values":[0,20,40,60,80,100],"title":null}},
         "y":{"field":"v","type":"quantitative","scale":{"domain":[0,0.2],"nice":false},"axis":{"values":[0,0.05,0.1,0.15,0.2],"format":".2f","title":null}}}},
       {"data":{"name":"a"},"transform":[{"filter":"datum.c=='1910' && datum.s=='H'"}],"mark":{"type":"line","color":"#f03c3c","opacity":0.55,"strokeWidth":2.5,"interpolate":"monotone"},
        "encoding":{"x":{"field":"a","type":"quantitative","scale":{"domain":[0,100],"nice":false,"zero":false},"axis":{"values":[0,20,40,60,80,100],"title":null}},
         "y":{"field":"v","type":"quantitative","scale":{"domain":[0,0.2],"nice":false},"axis":{"values":[0,0.05,0.1,0.15,0.2],"format":".2f","title":null}}}},
       {"data":{"values":[{"c":"1910"}]},"mark":{"type":"text","align":"right","baseline":"top","fontSize":18,"color":"#222"},
        "encoding":{"text":{"field":"c","type":"nominal"},"x":{"datum":99,"type":"quantitative","scale":{"domain":[0,100],"nice":false,"zero":false},"axis":{"values":[0,20,40,60,80,100],"title":null}},"y":{"datum":0.199,"type":"quantitative","scale":{"domain":[0,0.2],"nice":false},"axis":{"values":[0,0.05,0.1,0.15,0.2],"format":".2f","title":null}}}}
      ]},
     {"width":272,"height":113,"view":{"stroke":"#111","strokeWidth":1.5},
      "layer":[
       {"data":{"name":"a"},"transform":[{"filter":"datum.c=='1940' && datum.s=='G'"}],"mark":{"type":"line","color":"#111","strokeWidth":1.3},
        "encoding":{"x":{"field":"a","type":"quantitative","scale":{"domain":[0,100],"nice":false,"zero":false},"axis":{"values":[0,20,40,60,80,100],"title":"Age of death","titleFontSize":38.5,"titlePadding":12}},
         "y":{"field":"v","type":"quantitative","scale":{"domain":[0,0.2],"nice":false},"axis":{"values":[0,0.05,0.1,0.15,0.2],"format":".2f","title":null}}}},
       {"data":{"name":"a"},"transform":[{"filter":"datum.c=='1940' && datum.s=='H'"}],"mark":{"type":"line","color":"#f03c3c","opacity":0.55,"strokeWidth":2.5,"interpolate":"monotone"},
        "encoding":{"x":{"field":"a","type":"quantitative","scale":{"domain":[0,100],"nice":false,"zero":false},"axis":{"values":[0,20,40,60,80,100],"title":"Age of death","titleFontSize":38.5,"titlePadding":12}},
         "y":{"field":"v","type":"quantitative","scale":{"domain":[0,0.2],"nice":false},"axis":{"values":[0,0.05,0.1,0.15,0.2],"format":".2f","title":null}}}},
       {"data":{"values":[{"c":"1940"}]},"mark":{"type":"text","align":"right","baseline":"top","fontSize":18,"color":"#222"},
        "encoding":{"text":{"field":"c","type":"nominal"},"x":{"datum":99,"type":"quantitative","scale":{"domain":[0,100],"nice":false,"zero":false},"axis":{"values":[0,20,40,60,80,100],"title":"Age of death","titleFontSize":38.5,"titlePadding":12}},"y":{"datum":0.199,"type":"quantitative","scale":{"domain":[0,0.2],"nice":false},"axis":{"values":[0,0.05,0.1,0.15,0.2],"format":".2f","title":null}}}}
      ]}
    ]
   }
  ]
 },
 {
  "width":418,"height":431,
  "view":{"stroke":"#111","strokeWidth":2},
  "title":{"text":"B","anchor":"start","frame":"group","dx":-136,"offset":3,"baseline":"alphabetic","font":"Lato","fontSize":31,"fontWeight":"normal","color":"#222"},
  "resolve":{"scale":{"x":"independent","y":"independent"},"axis":{"x":"independent","y":"independent"}},
  "layer":[
   {"data":{"values":[{"x":4.15,"y":-4.0,"y2":-4.0},{"x":15,"y":-4.33,"y2":-5.24},{"x":45.3,"y":-5.24,"y2":-5.24}]},
    "mark":{"type":"area","color":"#dcdcdc"},
    "encoding":{
     "x":{"field":"x","type":"quantitative","scale":{"domain":[-1,100],"nice":false,"zero":false},"axis":null},
     "y":{"field":"y","type":"quantitative","scale":{"domain":[-12,2],"nice":false,"zero":false},"axis":null},
     "y2":{"field":"y2"}}},
   {"data":{"values":[{}]},
    "mark":{"type":"rect","fill":null,"stroke":"#111","strokeWidth":2.5,"strokeDash":[2.5,4.5]},
    "encoding":{
     "x":{"datum":-0.25,"type":"quantitative","scale":{"domain":[-1,100],"nice":false,"zero":false},"axis":{"orient":"top","values":[0,20,40,60,80,100],"labels":false,"title":null,"tickColor":"#111","tickSize":-7,"tickWidth":1}},
     "x2":{"datum":4.15},
     "y":{"datum":-11.1,"type":"quantitative","scale":{"domain":[-12,2],"nice":false,"zero":false},"axis":{"orient":"right","values":[-12,-10,-8,-6,-4,-2,0,2],"labels":false,"title":null,"tickColor":"#111","tickSize":-7,"tickWidth":1}},
     "y2":{"datum":0.93}}},
   {"data":{"name":"b"},
    "mark":{"type":"line","strokeWidth":4},
    "encoding":{
     "x":{"field":"a","type":"quantitative","scale":{"domain":[-1,100],"nice":false,"zero":false},"axis":{"orient":"bottom","values":[0,20,40,60,80,100],"title":"Age of death","titleFontSize":19,"titlePadding":8,"tickColor":"#111","tickSize":-7,"tickWidth":1,"labelFontSize":17,"labelPadding":10}},
     "y":{"field":"v","type":"quantitative","scale":{"domain":[-12,2],"nice":false,"zero":false},"axis":{"orient":"left","values":[-12,-10,-8,-6,-4,-2,0,2],"title":"Diff between Geni and HMD(%)","titleFontSize":19,"titlePadding":8,"tickColor":"#111","tickSize":-7,"tickWidth":1,"labelFontSize":17,"labelPadding":11}},
     "color":{"field":"c","type":"nominal","scale":{"domain":["1820","1850","1880","1910","1940"],"range":["#3a54a5","#1a8540","#ee2c2c","#2bbfc0","#9c3f9e"]},
      "legend":{"orient":"bottom-right","offset":10,"title":null,"strokeColor":"#111","fillColor":"white","padding":5,"symbolType":"stroke","symbolSize":961,"symbolStrokeWidth":4,"labelFontSize":21,"labelColor":"#222","rowPadding":3,"symbolOffset":10,"labelOffset":22}}}},
   {"data":{"values":[{}]},
    "mark":{"type":"rect","fill":"white","stroke":"#111","strokeWidth":2},
    "encoding":{
     "x":{"datum":0,"type":"quantitative","scale":{"domain":[0,4],"range":[62,192],"nice":false,"zero":false},"axis":null},
     "x2":{"datum":4},
     "y":{"datum":-11.1,"type":"quantitative","scale":{"domain":[-11.1,0.9],"range":[334,226],"nice":false,"zero":false},"axis":null},
     "y2":{"datum":0.9}}},
   {"data":{"name":"b"},"transform":[{"filter":"datum.a<=4"}],
    "mark":{"type":"line","strokeWidth":2,"point":{"shape":"square","size":10,"filled":true}},
    "encoding":{
     "x":{"field":"a","type":"quantitative","scale":{"domain":[0,4],"range":[62,192],"nice":false,"zero":false},"axis":{"orient":"bottom","offset":-97,"zindex":1,"values":[0,1,2,3,4],"title":null,"tickColor":"#111","tickSize":-3,"tickWidth":1,"labelFontSize":8,"labelColor":"#222","labelPadding":4}},
     "y":{"field":"v","type":"quantitative","scale":{"domain":[-11.1,0.9],"range":[334,226],"nice":false,"zero":false},"axis":{"orient":"left","offset":-62,"zindex":1,"values":[-10,-8,-6,-4,-2,0],"title":null,"tickColor":"#111","tickSize":-3,"tickWidth":1,"labelFontSize":8,"labelColor":"#222","labelPadding":9}},
     "color":{"field":"c","type":"nominal","legend":null}}}
  ]
 }
]
}
